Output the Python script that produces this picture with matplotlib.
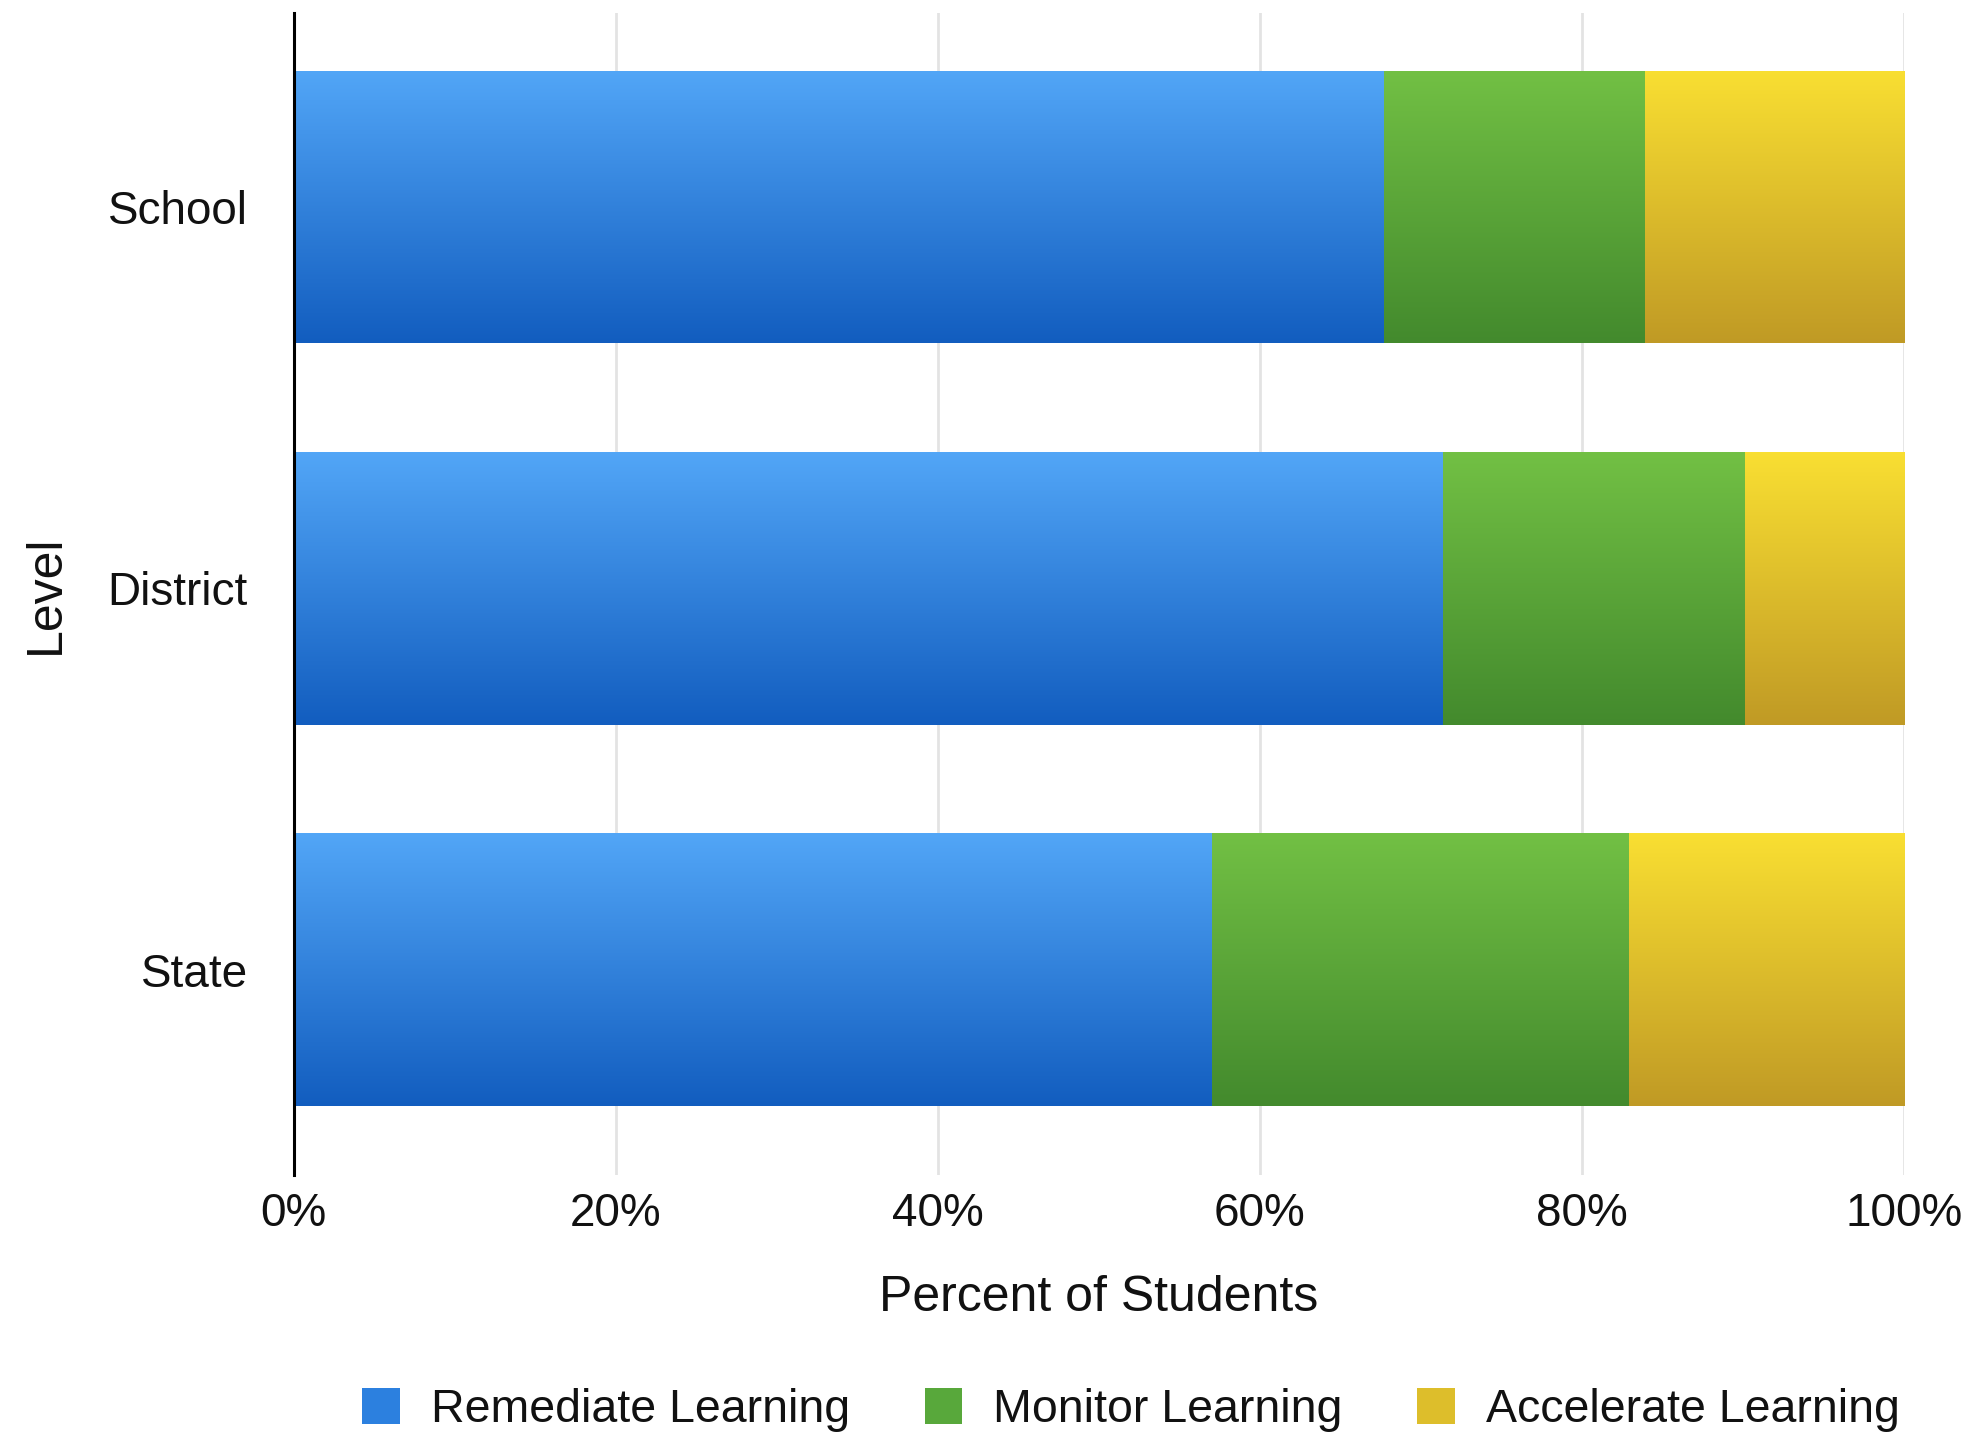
import numpy as np
import matplotlib
matplotlib.use("Agg")
import matplotlib.pyplot as plt
from matplotlib.colors import LinearSegmentedColormap
from matplotlib.patches import Patch

plt.rcParams['font.family'] = ['Liberation Sans', 'DejaVu Sans']

levels = ["School", "District", "State"]
series_names = ["Remediate Learning", "Monitor Learning", "Accelerate Learning"]
remediate = [67.7, 71.4, 57.0]
monitor = [16.2, 18.7, 25.9]
accelerate = [16.1, 9.9, 17.1]
xticks = [0, 20, 40, 60, 80, 100]
xtick_labels = ["0%", "20%", "40%", "60%", "80%", "100%"]

tops = ["#52A6F7", "#72C044", "#F9DF32"]
bottoms = ["#125DBF", "#438A2D", "#C09A25"]
mids = ["#2C80DF", "#58A83B", "#DDBE2B"]

fig = plt.figure(figsize=(19.71, 14.41), dpi=100)
ax = fig.add_axes([0.149, 1 - 1175 / 1441, 0.966 - 0.149, (1175 - 13) / 1441])

y = np.arange(len(levels))
left = np.zeros(len(levels))
grad = np.linspace(0, 1, 256).reshape(-1, 1)
for vals, name, top, bot, mid in zip([remediate, monitor, accelerate], series_names, tops, bottoms, mids):
    bars = ax.barh(y, vals, left=left, height=0.715, color=mid, edgecolor='none', label=name, zorder=2)
    cmap = LinearSegmentedColormap.from_list(name, [top, bot])
    for rect in bars:
        x0, y0 = rect.get_xy()
        w, h = rect.get_width(), rect.get_height()
        im = ax.imshow(grad, cmap=cmap, aspect='auto', origin='upper',
                       extent=(x0, x0 + w, y0 + h, y0), zorder=3, interpolation='bilinear')
        im.set_clip_path(rect)
    left = left + np.array(vals)

ax.set_xlim(0, 100)
ax.set_ylim(2.538, -0.509)
ax.set_yticks(y)
ax.set_yticklabels(levels, fontsize=33, color='#111111')
ax.set_xticks(xticks)
ax.set_xticklabels(xtick_labels, fontsize=33, color='#111111')
ax.tick_params(axis='y', length=0, pad=33)
ax.tick_params(axis='x', length=0, pad=12)
ax.grid(axis='x', color='#E3E3E3', linewidth=2, zorder=0)
ax.set_axisbelow(True)
for s in ['top', 'right', 'bottom']:
    ax.spines[s].set_visible(False)
ax.spines['left'].set_color('black')
ax.spines['left'].set_linewidth(2.2)
ax.spines['left'].set_zorder(5)

ax.set_xlabel("Percent of Students", fontsize=36, labelpad=28, color='#111111')
ax.set_ylabel("Level", fontsize=36, labelpad=28, color='#111111')

handles = [Patch(facecolor=m, edgecolor='none', label=n) for m, n in zip(mids, series_names)]
fig.legend(handles=handles, loc='center', bbox_to_anchor=(1131 / 1971, 1 - 1410 / 1441), ncol=3,
           frameon=False, fontsize=33.5, handlelength=0.81, handleheight=0.81, handletextpad=0.67,
           columnspacing=1.6, labelcolor='#111111')

fig.savefig("out.png", dpi=100)
